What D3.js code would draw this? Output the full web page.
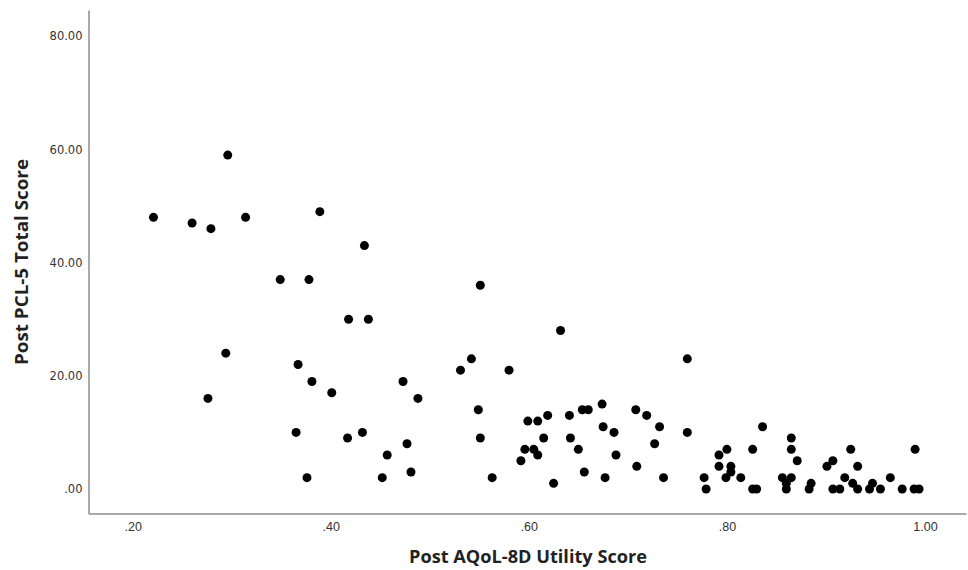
<!DOCTYPE html>
<html>
<head>
<meta charset="utf-8">
<script src="https://cdn.jsdelivr.net/npm/d3@7"></script>
<style>
  html, body { margin: 0; padding: 0; background: #fff; }
  svg { display: block; }
</style>
</head>
<body>
<div id="chart"></div>
<script>
// Post AQoL-8D Utility Score (x) vs Post PCL-5 Total Score (y)
const utility = [
  0.221, 0.260, 0.279, 0.296, 0.314, 0.389, 0.434, 0.349, 0.378, 0.418,
  0.438, 0.294, 0.276, 0.367, 0.381, 0.401, 0.473, 0.488, 0.531, 0.542,
  0.580, 0.549, 0.365, 0.417, 0.432, 0.477, 0.457, 0.481, 0.376, 0.452,
  0.551, 0.563, 0.599, 0.609, 0.619, 0.615, 0.596, 0.605, 0.609, 0.592,
  0.625, 0.632, 0.760, 0.641, 0.654, 0.660, 0.674, 0.642, 0.650, 0.656,
  0.675, 0.686, 0.688, 0.677, 0.708, 0.719, 0.732, 0.727, 0.709, 0.736,
  0.760, 0.777, 0.779, 0.792, 0.800, 0.792, 0.804, 0.804, 0.799, 0.814,
  0.836, 0.826, 0.826, 0.830, 0.865, 0.865, 0.871, 0.856, 0.865, 0.860,
  0.860, 0.885, 0.883, 0.901, 0.907, 0.907, 0.914, 0.919, 0.925, 0.932,
  0.927, 0.932, 0.947, 0.944, 0.955, 0.965, 0.977, 0.990, 0.989, 0.994,
  0.551
];
const pcl5 = [
  48, 47, 46, 59, 48, 49, 43, 37, 37, 30,
  30, 24, 16, 22, 19, 17, 19, 16, 21, 23,
  21, 14, 10, 9, 10, 8, 6, 3, 2, 2,
  9, 2, 12, 12, 13, 9, 7, 7, 6, 5,
  1, 28, 23, 13, 14, 14, 15, 9, 7, 3,
  11, 10, 6, 2, 14, 13, 11, 8, 4, 2,
  10, 2, 0, 6, 7, 4, 4, 3, 2, 2,
  11, 7, 0, 0, 9, 7, 5, 2, 2, 1,
  0, 1, 0, 4, 5, 0, 0, 2, 7, 4,
  1, 0, 1, 0, 0, 2, 0, 7, 0, 0,
  36
];
const xTicks = [0.2, 0.4, 0.6, 0.8, 1.0];
const yTicks = [0, 20, 40, 60, 80];
const xTitle = "Post AQoL-8D Utility Score";
const yTitle = "Post PCL-5 Total Score";

const W = 968, H = 570;
const plotLeft = 88.5, plotRight = 966, plotTop = 10, plotBottom = 513.5;

const svg = d3.select("#chart").append("svg")
  .attr("width", W).attr("height", H);

const x = d3.scaleLinear().domain([0.1554, 1.0414]).range([plotLeft, plotRight]);
const y = d3.scaleLinear().domain([-4.33, 84.63]).range([plotBottom, plotTop]);

const fmt = d => {
  const s = d3.format(".2f")(d);
  return s.startsWith("0") ? s.slice(1) : s;
};

// Y axis
const yAxis = svg.append("g")
  .attr("transform", `translate(${plotLeft},0)`)
  .call(d3.axisLeft(y).tickValues(yTicks).tickFormat(fmt).tickSize(0).tickPadding(6));
yAxis.select(".domain").attr("stroke", "#8c8c8c").attr("stroke-width", 1.5);
yAxis.selectAll("text")
  .attr("font-family", "'DejaVu Sans', sans-serif")
  .attr("font-size", 11.5)
  .attr("fill", "#333");

// X axis
const xAxis = svg.append("g")
  .attr("transform", `translate(0,${plotBottom})`)
  .call(d3.axisBottom(x).tickValues(xTicks).tickFormat(fmt).tickSize(0).tickPadding(9));
xAxis.select(".domain").attr("stroke", "#8c8c8c").attr("stroke-width", 1.5);
xAxis.selectAll("text")
  .attr("font-family", "'Liberation Sans', sans-serif")
  .attr("font-size", 12.5)
  .attr("fill", "#333");

// Points
const pts = utility.map((u, i) => ({u, p: pcl5[i]}));
svg.append("g").selectAll("circle")
  .data(pts).join("circle")
  .attr("cx", d => x(d.u))
  .attr("cy", d => y(d.p))
  .attr("r", 4.5)
  .attr("fill", "#000");

// Titles
svg.append("text")
  .attr("x", 528).attr("y", 563)
  .attr("text-anchor", "middle")
  .attr("font-family", "'Open Sans', sans-serif")
  .attr("font-weight", "bold")
  .attr("font-size", 17)
  .attr("textLength", 238)
  .attr("lengthAdjust", "spacingAndGlyphs")
  .attr("fill", "#222")
  .text(xTitle);

svg.append("text")
  .attr("transform", "translate(28,262) rotate(-90)")
  .attr("text-anchor", "middle")
  .attr("font-family", "'Open Sans', sans-serif")
  .attr("font-weight", "bold")
  .attr("font-size", 17)
  .attr("textLength", 206)
  .attr("lengthAdjust", "spacingAndGlyphs")
  .attr("fill", "#222")
  .text(yTitle);
</script>
</body>
</html>
